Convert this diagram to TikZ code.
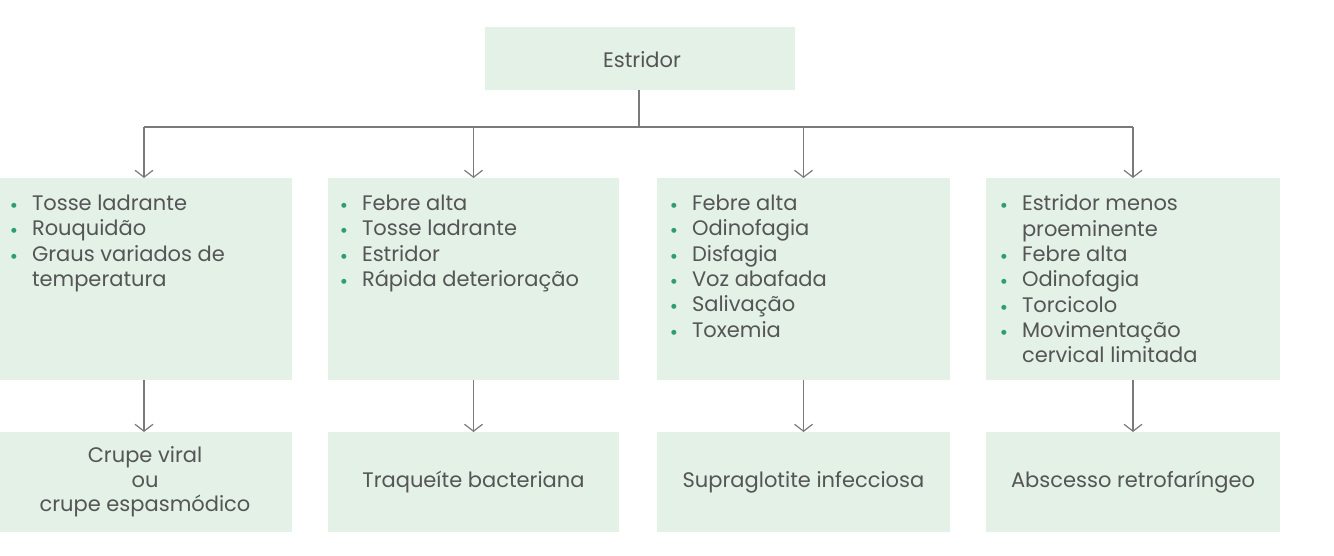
\documentclass[tikz,border=0pt]{standalone}
\usepackage{fontspec}
\setmainfont{Poppins}
\newfontfamily\dejavu{DejaVu Sans}
\usetikzlibrary{arrows.meta}
\definecolor{boxfill}{HTML}{E3F1E6}
\definecolor{txtgray}{HTML}{555555}
\definecolor{linegray}{HTML}{7A7A7A}
\definecolor{bulgreen}{HTML}{2E9E70}
\newcommand{\bul}{\makebox[21pt][l]{\textcolor{bulgreen}{\dejavu\fontsize{6.5}{6.5}\selectfont\raisebox{3pt}{●}}}}
\newcommand{\cont}{\hspace*{21pt}}
\tikzset{
  box/.style={fill=boxfill, draw=none, inner sep=0pt, outer sep=0pt},
  lbl/.style={text=txtgray, inner sep=0pt, outer sep=0pt, font=\fontsize{21}{25.3}\selectfont},
  conn/.style={draw=linegray, line width=1.2pt},
  arr/.style={conn, -{Straight Barb[length=7pt,width=18pt,line width=1.2pt]}},
}
\begin{document}
\begin{tikzpicture}[x=1pt,y=-1pt]
\useasboundingbox (0,0) rectangle (1334,556);
% top box
\node[box, minimum width=310pt, minimum height=63pt] (top) at (640,58.5) {};
\node[lbl] (toptxt) at (642,60) {Estridor};
% middle boxes
\node[box, minimum width=294pt, minimum height=202pt, anchor=north west] (m1) at (-2,178) {};
\node[box, minimum width=291pt, minimum height=202pt, anchor=north west] (m2) at (328,178) {};
\node[box, minimum width=293pt, minimum height=202pt, anchor=north west] (m3) at (657,178) {};
\node[box, minimum width=294pt, minimum height=202pt, anchor=north west] (m4) at (986,178) {};
% bottom boxes
\node[box, minimum width=294pt, minimum height=100pt, anchor=north west] (b1) at (-2,432) {};
\node[box, minimum width=291pt, minimum height=100pt, anchor=north west] (b2) at (328,432) {};
\node[box, minimum width=293pt, minimum height=100pt, anchor=north west] (b3) at (657,432) {};
\node[box, minimum width=294pt, minimum height=100pt, anchor=north west] (b4) at (986,432) {};
% middle texts
\node[lbl, align=left, anchor=north west] (t1) at (11,195) {\bul Tosse ladrante\\ \bul Rouquidão\\ \bul Graus variados de\\ \cont temperatura};
\node[lbl, align=left, anchor=north west] (t2) at (341,195) {\bul Febre alta\\ \bul Tosse ladrante\\ \bul Estridor\\ \bul Rápida deterioração};
\node[lbl, align=left, anchor=north west] (t3) at (671,195) {\bul Febre alta\\ \bul Odinofagia\\ \bul Disfagia\\ \bul Voz abafada\\ \bul Salivação\\ \bul Toxemia};
\node[lbl, align=left, anchor=north west] (t4) at (1001,195) {\bul Estridor menos\\ \cont proeminente\\ \bul Febre alta\\ \bul Odinofagia\\ \bul Torcicolo\\ \bul Movimentação\\ \cont cervical limitada};
% bottom texts
\node[lbl, align=center, font=\fontsize{21}{24.5}\selectfont] (u1) at (b1) {Crupe viral\\ ou\\ crupe espasmódico};
\node[lbl] (u2) at (b2) {Traqueíte bacteriana};
\node[lbl] (u3) at (b3) {Supraglotite infecciosa};
\node[lbl] (u4) at (b4) {Abscesso retrofaríngeo};
% connectors
\coordinate (j) at (639,127);
\coordinate (jl) at (144,127);
\coordinate (jr) at (1133,127);
\draw[conn] (top.south -| j) -- (j);
\draw[conn] (jl) -- (jr);
\draw[arr] (jl) -- (jl |- m1.north);
\draw[arr] (m2.north |- j) -- (m2.north);
\draw[arr] (m3.north |- j) -- (m3.north);
\draw[arr] (jr) -- (jr |- m4.north);
\draw[arr] (jl |- m1.south) -- (jl |- b1.north);
\draw[arr] (m2.south) -- (b2.north);
\draw[arr] (m3.south) -- (b3.north);
\draw[arr] (m4.south) -- (b4.north);
\end{tikzpicture}
\end{document}
